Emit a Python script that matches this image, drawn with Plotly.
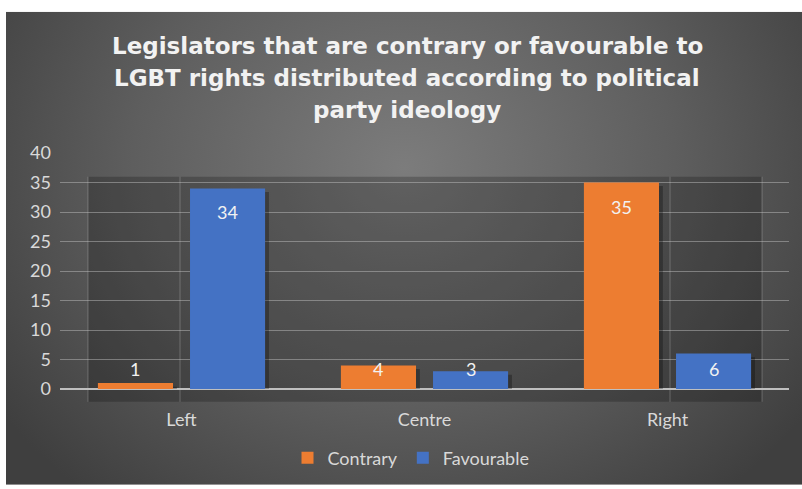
import base64
import plotly.graph_objects as go

# Data
categories = ["Left", "Centre", "Right"]
contrary = [1, 4, 35]
favourable = [34, 3, 6]
y_ticks = [0, 5, 10, 15, 20, 25, 30, 35, 40]
title_lines = [
    "Legislators that are contrary or favourable to",
    "LGBT rights distributed according to political",
    "party ideology",
]

W, H = 802, 489
ML, MR, MT, MB = 60, 13, 153, 97
PW, PH = W - ML - MR, H - MT - MB

ORANGE = "#ED7D31"
BLUE = "#4472C4"
TXT = "#D9D9D9"
FONT = "Lato"

BAR_W = 0.309          # bar width in category units
OFFSETS = [-0.344, 0.035]  # left edge of each series' bar relative to category centre
SH_DX, SH_DY = 0.016, 0.6  # drop-shadow displacement (x in categories, y in values)


def px_x(p):
    return (p - ML) / PW


def px_y(p):
    return (H - MB - p) / PH


# Radial grey background for the chart panel
svg = f"""<svg xmlns='http://www.w3.org/2000/svg' width='796' height='479' viewBox='0 0 796 479' preserveAspectRatio='none'>
<defs><radialGradient id='g' cx='0.5' cy='0.33' r='0.62' gradientTransform='translate(0.5 0.33) scale(1 1.45) translate(-0.5 -0.33)'>
<stop offset='0' stop-color='#7c7c7c'/><stop offset='0.55' stop-color='#5e5e5e'/><stop offset='1' stop-color='#3f3f3f'/></radialGradient></defs>
<rect width='796' height='479' fill='url(#g)'/></svg>"""
bg_src = "data:image/svg+xml;base64," + base64.b64encode(svg.encode()).decode()

fig = go.Figure()
series = [("Contrary", contrary, ORANGE), ("Favourable", favourable, BLUE)]

# soft drop shadows under the bars
for s, (name, vals, col) in enumerate(series):
    fig.add_trace(go.Bar(x=categories, y=vals, base=-SH_DY, width=BAR_W,
                         offset=OFFSETS[s] + SH_DX, marker_color="rgba(0,0,0,0.28)",
                         marker_line_width=0, showlegend=False, hoverinfo="skip"))

for s, (name, vals, col) in enumerate(series):
    fig.add_trace(go.Bar(name=name, x=categories, y=vals, width=BAR_W, offset=OFFSETS[s],
                         marker_color=col, marker_line_width=0, hoverinfo="x+y"))

# Value labels: near the top inside tall bars, centred low for short ones
annotations = []
for s, (name, vals, col) in enumerate(series):
    for i, v in enumerate(vals):
        xc = i + OFFSETS[s] + BAR_W / 2
        if v >= 10:
            annotations.append(dict(x=xc, y=v, xref="x", yref="y", text=str(v),
                                    showarrow=False, yanchor="middle", yshift=-24,
                                    font=dict(family=FONT, size=18, color="#F2F2F2")))
        else:
            annotations.append(dict(x=xc, y=0, xref="x", yref="y", text=str(v),
                                    showarrow=False, yanchor="middle", yshift=20,
                                    font=dict(family=FONT, size=18, color="#F2F2F2")))

# Chart title, one annotation per line
for k, line in enumerate(title_lines):
    annotations.append(dict(x=px_x(407), y=px_y(45 + 32 * k), xref="paper", yref="paper",
                            text=line, showarrow=False, xanchor="center", yanchor="middle",
                            font=dict(family="DejaVu Sans", size=23, color="#F2F2F2",
                                      weight="bold")))

shapes = [
    # darker back panel behind the bars
    dict(type="rect", xref="paper", yref="paper", layer="below",
         x0=px_x(88), x1=px_x(762), y0=px_y(405), y1=px_y(177),
         fillcolor="rgba(0,0,0,0.22)", line_width=0),
]
for xp in (88, 180, 670, 762):
    shapes.append(dict(type="line", xref="paper", yref="paper", layer="below",
                       x0=px_x(xp), x1=px_x(xp), y0=px_y(405), y1=px_y(177),
                       line=dict(color="rgba(255,255,255,0.22)", width=1)))

fig.update_layout(
    width=W, height=H,
    margin=dict(l=ML, r=MR, t=MT, b=MB, pad=0),
    paper_bgcolor="white",
    plot_bgcolor="rgba(0,0,0,0)",
    images=[dict(source=bg_src, xref="paper", yref="paper",
                 x=px_x(6), y=px_y(10), sizex=796 / PW, sizey=479 / PH,
                 xanchor="left", yanchor="top", sizing="stretch", layer="below")],
    barmode="overlay",
    showlegend=True,
    legend=dict(orientation="h", x=px_x(411), xanchor="center", y=px_y(462), yanchor="middle",
                font=dict(family=FONT, size=18, color=TXT), bgcolor="rgba(0,0,0,0)",
                itemwidth=30, traceorder="normal"),
    xaxis=dict(showgrid=False, showline=False, zeroline=False, ticks="",
               range=[-0.5, 2.5],
               tickfont=dict(family=FONT, size=18, color=TXT), ticklabelstandoff=18),
    yaxis=dict(range=[0, 40], tickvals=y_ticks, showgrid=True,
               gridcolor="rgba(200,200,200,0.45)", gridwidth=1,
               zeroline=True, zerolinecolor="#BFBFBF", zerolinewidth=2,
               showline=False, ticks="", ticklabelstandoff=8,
               tickfont=dict(family=FONT, size=18, color=TXT)),
    annotations=annotations,
    shapes=shapes,
    font=dict(family=FONT),
)

fig.write_html("out.html")
